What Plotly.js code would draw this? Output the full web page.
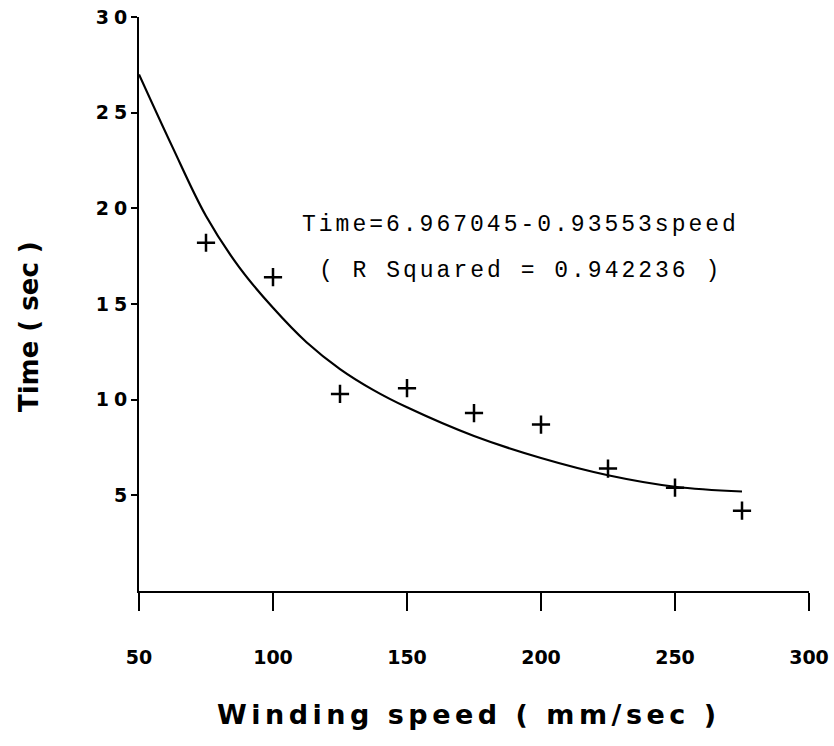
<!DOCTYPE html>
<html>
<head>
<meta charset="utf-8">
<script src="https://cdn.plot.ly/plotly-3.0.1.min.js"></script>
<style>
  html, body { margin: 0; padding: 0; background: #fff; }
  #chart { width: 834px; height: 746px; }
  .ytick text { letter-spacing: 5px; }
  .annotation[data-index="0"] text, .annotation[data-index="1"] text { letter-spacing: 3px; }
  .annotation[data-index="2"] text { letter-spacing: 4.5px; }
</style>
</head>
<body>
<div id="chart"></div>
<script>
// Observed data points (Winding speed mm/sec vs Time sec)
const speed = [75, 100, 125, 150, 175, 200, 225, 250, 275];
const timeSec = [18.2, 16.4, 10.3, 10.6, 9.3, 8.7, 6.4, 5.4, 4.2];

// Fitted curve
const fitSpeed = [50, 62.5, 75, 87.5, 100, 112.5, 125, 137.5, 150, 175, 200, 225, 250, 275];
const fitTime = [27.0, 23.2, 19.6, 16.9, 14.8, 13.0, 11.6, 10.5, 9.6, 8.1, 6.95, 6.05, 5.45, 5.2];

// Tick labels
const xTicks = [50, 100, 150, 200, 250, 300];
const yTicks = [5, 10, 15, 20, 25, 30];
const yTickText = ['5', '10', '15', '20', '25', '30'];

const eqLine1 = 'Time=6.967045-0.93553speed';
const eqLine2 = '( R Squared = 0.942236 )';
const xTitle = 'Winding speed ( mm/sec )';
const yTitle = 'Time ( sec )';

const traces = [
  {
    x: fitSpeed, y: fitTime, type: 'scatter', mode: 'lines',
    line: { color: '#000', width: 2.2, shape: 'spline', smoothing: 1 },
    hoverinfo: 'skip', showlegend: false
  },
  {
    x: speed, y: timeSec, type: 'scatter', mode: 'markers',
    marker: { symbol: 'cross-thin-open', size: 13, color: '#000', line: { color: '#000', width: 2.5 } },
    showlegend: false
  }
];

const boldFont = '"DejaVu Sans", Verdana, sans-serif';

const layout = {
  width: 834, height: 746,
  margin: { l: 139, r: 25, t: 17, b: 155, pad: 0 },
  paper_bgcolor: '#fff', plot_bgcolor: '#fff',
  showlegend: false,
  xaxis: {
    range: [50, 300], showgrid: false, zeroline: false,
    showline: true, linecolor: '#000', linewidth: 2,
    ticks: 'outside', ticklen: 18, tickwidth: 2, tickcolor: '#000',
    tickmode: 'array', tickvals: xTicks,
    tickfont: { family: boldFont, size: 19, color: '#000', weight: 'bold' },
    ticklabelstandoff: 30
  },
  yaxis: {
    range: [0, 30], showgrid: false, zeroline: false,
    showline: true, linecolor: '#000', linewidth: 2,
    ticks: 'outside', ticklen: 6, tickwidth: 2, tickcolor: '#000',
    tickmode: 'array', tickvals: yTicks, ticktext: yTickText,
    tickfont: { family: boldFont, size: 19, color: '#000', weight: 'bold' },
    ticklabelstandoff: -5
  },
  annotations: [
    { x: 192.5, y: 19.15, xref: 'x', yref: 'y', text: eqLine1, showarrow: false,
      xanchor: 'center', yanchor: 'middle',
      font: { family: '"Liberation Mono", "Courier New", monospace', size: 23, color: '#000' } },
    { x: 192.5, y: 16.7, xref: 'x', yref: 'y', text: eqLine2, showarrow: false,
      xanchor: 'center', yanchor: 'middle',
      font: { family: '"Liberation Mono", "Courier New", monospace', size: 23, color: '#000' } },
    { x: 0.4925, y: -0.216, xref: 'paper', yref: 'paper', text: xTitle, showarrow: false,
      xanchor: 'center', yanchor: 'middle',
      font: { family: boldFont, size: 27, color: '#000', weight: 'bold' } },
    { x: -0.164, y: 0.46, xref: 'paper', yref: 'paper', text: yTitle, showarrow: false,
      textangle: -90, xanchor: 'center', yanchor: 'middle',
      font: { family: boldFont, size: 26, color: '#000', weight: 'bold' } }
  ]
};

Plotly.newPlot('chart', traces, layout, { staticPlot: true, displayModeBar: false });
</script>
</body>
</html>
